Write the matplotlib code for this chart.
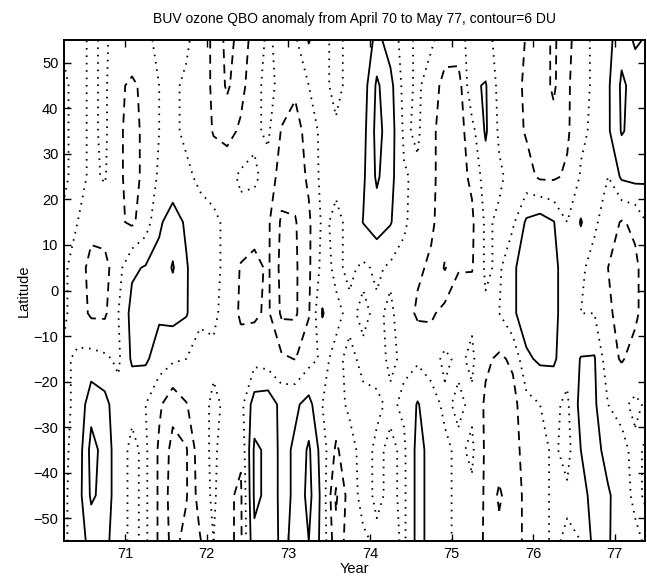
import numpy as np
import matplotlib
matplotlib.use("Agg")
import matplotlib.pyplot as plt

# time axis: every 2 months from April 1970
years = [70.25 + k / 6.0 for k in range(44)]
# latitude rows, north to south
lats = [55, 45, 35, 25, 15, 5, -5, -15, -25, -35, -45, -55]

# ozone QBO anomaly (DU), one list per latitude row (north to south)
z_55 = [1, 2, -1, 1, -3, -2, -1, 1, 2, 1, -3, -7, -14, -10, -3, 1, -2, -1, 6.5, 1, -1, 1, 1, 8, 3, -2, 1, 1, -3, -2, 2, 1, -1, -2, -6.5, -9, -13, -8, -2, 1, 4, 10, 5, 7]
z_45 = [-1, 2, -1, 1, -5, -7, -4.5, 0, 1, -1, -3, -7, -13, -8, -2, 2, -2, -5, 0, 1, -1, 1, 3, 13, 8, -2, 1, -3, -8, -9, 5, 6.5, -2, -4, -7, -9, -13, -7, -2, 1, 5, 13, 10, 8]
z_35 = [-1, 2, -1, 1, -5, -8, -4.5, 0, 1, -1, -2, -6.5, -8, -5, -1, 1, -6.5, -8, -4, 2, 0.5, 2, 4, 14, 9, -1, 1, -5, -8, -9, -2, 6.8, -1, -4, -6.5, -9, -10, -7, -1, 1, 5, 12.5, 10, 8]
z_25 = [-1, 2, -1, 0.5, -5, -8, -4.5, 1, 2, 1, -1, -2, -2, 1, 1, -2, -9, -9, -5, 2, 1, 1, 5, 13, 8, 0.5, -1, -5, -8, -8, -5, 3, 1, -2, -4, -7, -7, -5, 0.5, 2, 0, 7, 8, 7]
z_15 = [1, 0, -4, -3, -5, -7, -3, 5, 9, 5, 2, 1, -1, -2, -3, -5, -13, -12.5, -7, 1, -1, 1, 6.2, 9, 6.5, 1, -3, -5, -9, -8, -7, 1, -1, -1, 7, 9, 6.3, 0, 6.5, 1, -3, -6.5, -5, 1]
z_05 = [1, -3, -8, -8, -2, 5, 6.5, 8, 12.5, 6.5, 2, 1, -1, -6.5, -8, -5, -14, -13, -7, 2, -1, 1, -1, 1, -1, -2, -5, -7, -12.5, -6.5, -6.5, 1, -1, 5, 9, 10, 8, 2, 1, -2, -6, -8, -7, -3]
z_m05 = [1, -3, -7, -7, 0, 8, 9, 7, 8, 6.5, 1, 1, -2, -7, -7, -5, -13, -13, -6.5, 6.5, 1, -1, 1, -1, 1, -3, -7, -7, -4, -2, -1, -1, 0, 5, 9, 10, 8, 2, 0, 0, -5, -8, -7, -3]
z_m15 = [-1, 1, 2, 1, -1, 7, 7, 3, 1, 0, -2, -1, -2, -3, -2, -3, -5, -6.2, -2, 1, -1, 1, -1, -2, 1, -1, -1, -2, 1, -1, 1, -5, -7, -5, 5, 7, 7, 2, 6.3, 6.5, -4, -6.5, -4, -1]
z_m25 = [-1, 1, 10, 8, 2, 1, 0, -5, -10, -6.3, -2, 1, -1, -2, 9, 10, 4, 5, 8, 0, -2, 1, 1, 1, -1, 1, 6.5, 2, -1, 1, -1, -7, -9, -8, -2, 0, 1, -1, 8, 7, 0, -1, 1, -1]
z_m35 = [-1, 2, 14, 10, 2, -1, 1, -7, -14, -12.5, -2, 1, -3, -5, 13, 11, 4, 7, 13, 3, -7, -2, 2, -1, 1, -1, 8, 4, 1, -1, 1, -7, -9, -8, -4, -2, 1, -2, 6, 9, 3, 1, -1, 1]
z_m45 = [-1, 3, 13, 10, 2, -1, 1, -7, -15, -12.5, -3, 1, -5, -7, 13, 11, 4, 7, 14, 4, -13, -3, 2, -1, 1, -1, 8, 4, 1, -1, -1, -7, -13, -8, -5, -2, 1, 1, 2, 10, 7, 2, -1, 1]
z_m55 = [-1, 3, 8, 8, 2, -1, 1, -7, -14, -10, -6.5, 0, -5, -7, 11, 9, 5, 7, 12, 4, -10, -3, -1, 1, 2, -1, 8, 4, 1, -1, -2, -7, -10, -8, -5, -2, 1, -1, 0, 8, 7, 1, 1, -1]

rows = [z_55, z_45, z_35, z_25, z_15, z_05, z_m05, z_m15, z_m25, z_m35, z_m45, z_m55]

xticks = [71, 72, 73, 74, 75, 76, 77]
yticks = [-50, -40, -30, -20, -10, 0, 10, 20, 30, 40, 50]

plt.rcParams['font.family'] = ['Liberation Sans', 'DejaVu Sans']

Z = np.array(rows, dtype=float)[::-1]
Y = np.array(lats, dtype=float)[::-1]
X = np.array(years, dtype=float)

fig = plt.figure(figsize=(6.47, 5.81), dpi=100)
ax = fig.add_axes([64 / 647, 40 / 581, 581 / 647, 501 / 581])

cn = ax.contour(X, Y, Z, levels=[-12, -6], colors='k', linewidths=1.3)
cn.set_linestyle((0, (5, 3.5)))
c0 = ax.contour(X, Y, Z, levels=[0], colors='k', linewidths=1.3)
c0.set_linestyle((0, (0.9, 3.2)))
cp = ax.contour(X, Y, Z, levels=[6, 12], colors='k', linewidths=1.3)
cp.set_linestyle('solid')

ax.set_xlim(70.25, 77.37)
ax.set_ylim(-55, 55)
ax.set_xticks(xticks)
ax.set_xticklabels([str(t) for t in xticks])
ax.set_yticks(yticks)
ax.set_yticklabels([str(t).replace('-', '\u2212') for t in yticks])
ax.tick_params(direction='in', length=5, width=1, top=True, right=True,
               labelsize=10.5, pad=4)
for s in ax.spines.values():
    s.set_linewidth(1.4)

ax.set_xlabel('Year', fontsize=10.5, labelpad=1)
ax.set_ylabel('Latitude', fontsize=10.5, labelpad=2)
ax.set_title('BUV ozone QBO anomaly from April 70 to May 77, contour=6 DU',
             fontsize=10, pad=12)

fig.savefig('out.png', dpi=100)
